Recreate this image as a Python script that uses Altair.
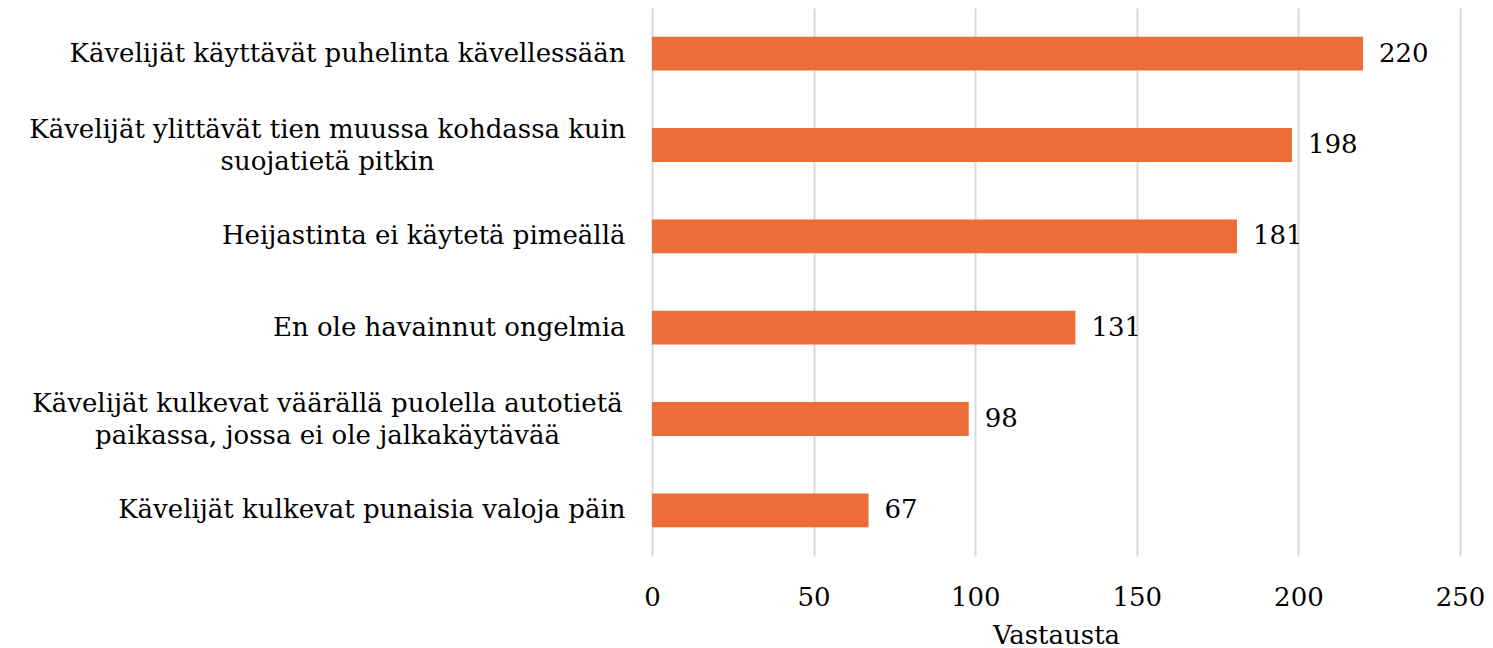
import altair as alt
import pandas as pd

categories = [
    "Kävelijät käyttävät puhelinta kävellessään",
    "Kävelijät ylittävät tien muussa kohdassa kuin|suojatietä pitkin",
    "Heijastinta ei käytetä pimeällä",
    "En ole havainnut ongelmia",
    "Kävelijät kulkevat väärällä puolella autotietä|paikassa, jossa ei ole jalkakäytävää",
    "Kävelijät kulkevat punaisia valoja päin",
]
values = [220, 198, 181, 131, 98, 67]
x_ticks = [0, 50, 100, 150, 200, 250]

df = pd.DataFrame({"cat": categories, "val": values})

FONT = "DejaVu Serif"
FS = 26
COLOR = "#ED6D38"
MULTI = "indexof(datum.label, '|') >= 0"

y_enc = alt.Y(
    "cat:N",
    sort=categories,
    scale=alt.Scale(paddingInner=0.63, paddingOuter=0.315),
    axis=alt.Axis(
        title=None,
        domain=False,
        ticks=False,
        labelPadding={"condition": {"test": MULTI, "value": 325}, "value": 27},
        labelAlign={"condition": {"test": MULTI, "value": "center"}, "value": "right"},
        labelOffset={"condition": {"test": MULTI, "value": -15}, "value": 0},
        labelFont=FONT,
        labelFontSize=FS,
        labelColor="#000000",
        labelLimit=700,
        labelExpr="split(datum.label, '|')",
        labelLineHeight=32,
    ),
)

x_enc = alt.X(
    "val:Q",
    scale=alt.Scale(domain=[0, 250], nice=False),
    axis=alt.Axis(
        title="Vastausta",
        values=x_ticks,
        domain=False,
        ticks=False,
        grid=True,
        gridColor="#d9d9d9",
        gridWidth=2,
        labelPadding=28,
        labelFlush=False,
        labelFont=FONT,
        labelFontSize=FS,
        labelColor="#000000",
        titleFont=FONT,
        titleFontSize=FS,
        titleFontWeight="normal",
        titleColor="#000000",
        titlePadding=12,
    ),
)

bars = alt.Chart(df).mark_bar(color=COLOR).encode(x=x_enc, y=y_enc)

text = alt.Chart(df).mark_text(
    align="left", baseline="middle", dx=16, font=FONT, fontSize=FS, color="#000000"
).encode(x="val:Q", y=alt.Y("cat:N", sort=categories), text="val:Q")

chart = (
    alt.layer(bars, text)
    .properties(
        width=808,
        height=548,
        padding={"left": 644, "top": 0, "right": 25, "bottom": 92},
        autosize=alt.AutoSizeParams(type="none"),
    )
    .configure_view(stroke=None)
)

chart.save("out.html", embed_options={"renderer": "svg", "actions": False})
